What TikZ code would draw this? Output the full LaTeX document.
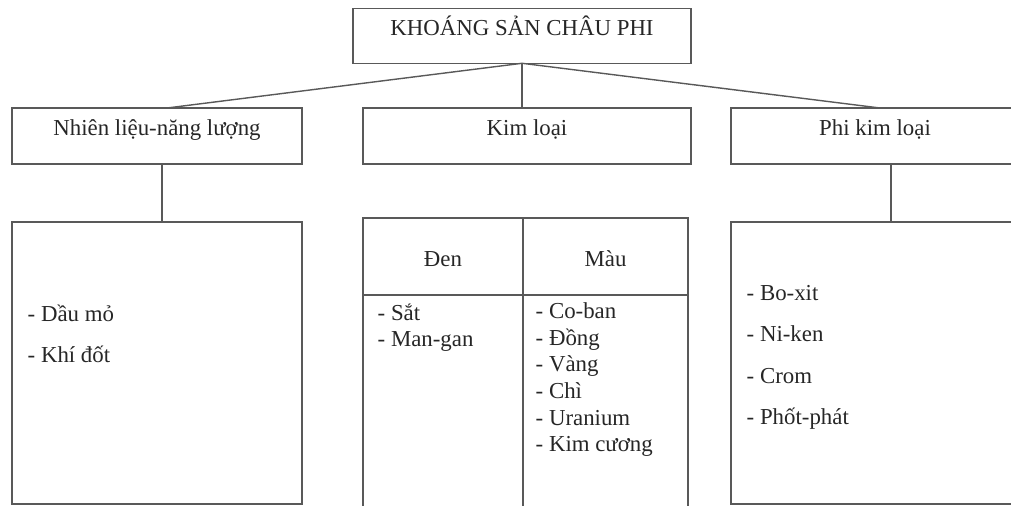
\documentclass[tikz,border=0pt]{standalone}
\usepackage{fontspec}
\setmainfont{Liberation Serif}
\usetikzlibrary{positioning}

\begin{document}
\begin{tikzpicture}[x=0.02cm, y=-0.02cm, line width=0.8pt, draw=black!65,
    box/.style = {draw=black!65, outer sep=0pt, inner sep=0pt, text=black!85, font=\fontsize{13}{15.2}\selectfont},
    head/.style = {box, minimum height=1.12cm, text height=2.5mm, text depth=2.5mm},
    cell/.style = {box, minimum height=1.54cm, text height=5mm, text depth=0.8mm},
    list/.style = {anchor=base west, align=left, inner sep=0pt, text=black!85}]
    \useasboundingbox (0,0) rectangle (1011,506);

    \node[head, minimum width=6.76cm, minimum height=1.1cm] (title) at (522,35.8) {KHOÁNG SẢN CHÂU PHI};
    \node[head, minimum width=5.8cm] (fuel) at (157,136) {Nhiên liệu-năng lượng};
    \node[head, minimum width=6.56cm] (metal) at (527,136) {Kim loại};
    \node[head, minimum width=5.76cm] (nonmetal) at (875,136) {Phi kim loại};

    \node[box, minimum width=5.8cm, minimum height=5.64cm] (fuellist) [below=1.16cm of fuel] {};
    \node[box, minimum width=5.76cm, minimum height=5.64cm] (nonmetallist) [below=1.16cm of nonmetal] {};

    % bang kim loai
    \node[cell, minimum width=3.2cm] (den) [below=1.08cm of metal.south west, anchor=north west] {Đen};
    \node[cell, minimum width=3.3cm] (mau) [right=0pt of den] {Màu};
    \node[box, minimum width=3.2cm, minimum height=4.3cm] (denlist) [below=0pt of den] {};
    \node[box, minimum width=3.3cm, minimum height=4.3cm] (maulist) [below=0pt of mau] {};

    % base = dong cuoi
    \node[list, font=\fontsize{13}{23.8}\selectfont] (fuelitems) at (27,363) {- Dầu mỏ\\- Khí đốt};
    \node[list, font=\fontsize{13}{15.2}\selectfont] (denitems) at (377,347) {- Sắt\\- Man-gan};
    \node[list, font=\fontsize{13}{15.2}\selectfont] (mauitems) at (535,452) {- Co-ban\\- Đồng\\- Vàng\\- Chì\\- Uranium\\- Kim cương};
    \node[list, font=\fontsize{13}{23.7}\selectfont] (nonmetalitems) at (746,425) {- Bo-xit\\- Ni-ken\\- Crom\\- Phốt-phát};

    \draw (title.south) -- ([xshift=0.2cm]fuel.north);
    \draw (title.south) -- (title.south |- metal.north);
    \draw (title.south) -- ([xshift=0.1cm]nonmetal.north);
    \draw ([xshift=0.1cm]fuel.south) -- ([xshift=0.1cm]fuellist.north);
    \draw ([xshift=0.32cm]nonmetal.south) -- ([xshift=0.32cm]nonmetallist.north);
\end{tikzpicture}
\end{document}
